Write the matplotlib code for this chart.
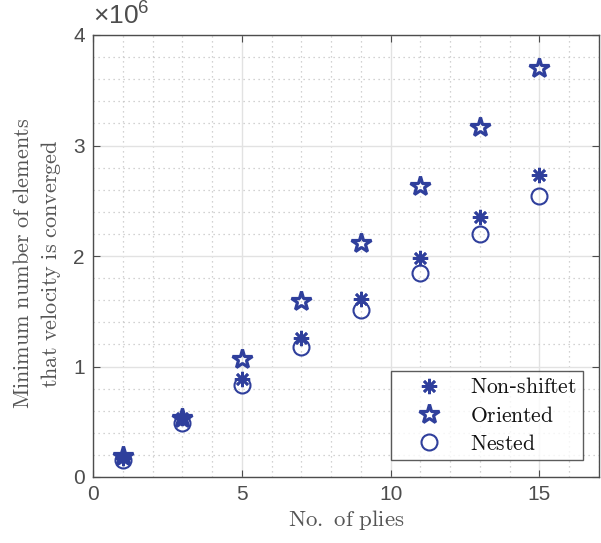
import numpy as np
import matplotlib
matplotlib.use("Agg")
import matplotlib.pyplot as plt
from matplotlib.ticker import MultipleLocator

plt.rcParams['mathtext.fontset'] = 'cm'
plt.rcParams['mathtext.rm'] = 'Liberation Sans'
plt.rcParams['mathtext.it'] = 'Liberation Sans'

plies = [1, 3, 5, 7, 9, 11, 13, 15]
non_shiftet = [0.17, 0.53, 0.89, 1.26, 1.615, 1.98, 2.355, 2.73]
oriented = [0.19, 0.53, 1.07, 1.59, 2.115, 2.635, 3.165, 3.70]
nested = [0.15, 0.49, 0.835, 1.18, 1.515, 1.85, 2.20, 2.545]
y_ticks = [0, 1, 2, 3, 4]

color = '#2f3f9c'
tick_color = '#4d4d4d'
label_color = '#555555'

fig = plt.figure(figsize=(6.01, 5.43), dpi=100)
ax = fig.add_axes([93 / 601, 1 - 477 / 543, 506 / 601, 442 / 543])

scale = 1e6
ax.plot(plies, np.array(non_shiftet) * scale, linestyle='none',
        marker=(8, 2, 0), markersize=11, markeredgewidth=1.9,
        color=color, label=r'$\mathrm{Non}$-$\mathrm{shiftet}$')
ax.plot(plies, np.array(oriented) * scale, linestyle='none',
        marker='*', markersize=15, markeredgewidth=2.3,
        markerfacecolor='none', markeredgecolor=color,
        label=r'$\mathrm{Oriented}$')
ax.plot(plies, np.array(nested) * scale, linestyle='none',
        marker='o', markersize=11.5, markeredgewidth=1.5,
        markerfacecolor='none', markeredgecolor=color,
        label=r'$\mathrm{Nested}$')

ax.set_xlim(0, 17)
ax.set_ylim(0, 4e6)
ax.xaxis.set_major_locator(MultipleLocator(5))
ax.xaxis.set_minor_locator(MultipleLocator(1))
ax.yaxis.set_minor_locator(MultipleLocator(0.2e6))
ax.set_yticks([v * scale for v in y_ticks])
ax.set_yticklabels([str(v) for v in y_ticks])

ax.grid(which='major', color='#e2e2e2', linewidth=1.0)
ax.grid(which='minor', color='#c4c4c4', linewidth=0.9, linestyle=(0, (1, 3)))
ax.set_axisbelow(True)

ax.tick_params(which='major', direction='in', length=5, width=0.8,
               colors=tick_color, labelsize=15, top=True, right=True, pad=6)
ax.tick_params(which='minor', length=0)
for lab in ax.get_xticklabels() + ax.get_yticklabels():
    lab.set_family('Liberation Sans')
for spine in ax.spines.values():
    spine.set_color(tick_color)
    spine.set_linewidth(1.0)

ax.text(0.0, 1.01, r'$\times 10^{6}$', transform=ax.transAxes,
        fontsize=19, color=tick_color, ha='left', va='bottom',
        math_fontfamily='custom')

ax.set_xlabel(r'$\mathrm{No.\ of\ plies}$', fontsize=16.5, color=label_color, labelpad=3)
ax.set_ylabel('$\\mathrm{Minimum\\ number\\ of\\ elements}$\n'
              '$\\mathrm{that\\ velocity\\ is\\ converged}$',
              fontsize=16, color=label_color, linespacing=1.3)
ax.yaxis.set_label_coords(-0.06, 0.482)

leg = ax.legend(loc='lower right', bbox_to_anchor=(0.968, 0.038), fontsize=15.5,
                frameon=True, fancybox=False, edgecolor='#333333',
                handletextpad=0.45, borderpad=0.3, labelspacing=0.38,
                handlelength=2.9, borderaxespad=0)
leg.get_frame().set_linewidth(1.0)
for t in leg.get_texts():
    t.set_color('#111111')

fig.savefig('out.png', dpi=100)
